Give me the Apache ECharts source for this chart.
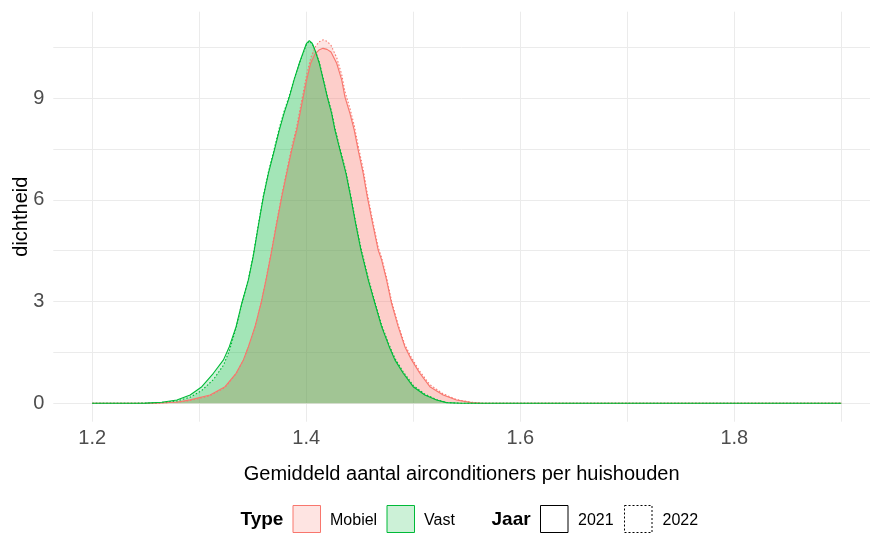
<!DOCTYPE html>
<html>
<head>
<meta charset="utf-8">
<script src="https://cdn.jsdelivr.net/npm/echarts@6/dist/echarts.min.js"></script>
<style>
html,body{margin:0;padding:0;background:#fff;}
#chart{width:870px;height:534px;}
</style>
</head>
<body>
<div id="chart"></div>
<script>
// ---- data ----
const mobielX = [1.2,1.26,1.28,1.2915,1.3101,1.3241,1.3344,1.3412,1.3459,1.3521,1.3577,1.3624,1.3668,1.3724,1.3771,1.3817,1.3864,1.3911,1.3942,1.3972,1.4004,1.4041,1.4081,1.4118,1.4156,1.4194,1.4231,1.4284,1.4331,1.4361,1.4408,1.4448,1.4485,1.4532,1.4570,1.4620,1.4672,1.4704,1.4750,1.4797,1.4859,1.4921,1.4984,1.5061,1.5155,1.5279,1.5404,1.5544,1.565,1.9];
const mobiel2021Y = [0,0.005,0.04,0.1,0.245,0.49,0.885,1.28,1.67,2.26,2.95,3.64,4.35,5.31,6.09,6.78,7.47,8.06,8.55,9.04,9.54,10.03,10.30,10.42,10.47,10.44,10.36,10.03,9.54,9.04,8.55,8.06,7.47,6.78,6.09,5.31,4.52,4.23,3.64,2.95,2.26,1.67,1.28,0.885,0.49,0.245,0.097,0.02,0,0];
const mobiel2022Y = [0,0.004,0.035,0.08,0.22,0.47,0.87,1.27,1.66,2.25,2.95,3.66,4.38,5.36,6.15,6.85,7.56,8.17,8.68,9.18,9.70,10.18,10.50,10.66,10.72,10.68,10.56,10.20,9.70,9.20,8.70,8.20,7.60,6.90,6.20,5.40,4.60,4.30,3.72,3.02,2.32,1.73,1.34,0.94,0.55,0.28,0.11,0.03,0,0];
const vastX = [1.2,1.25,1.265,1.2791,1.2915,1.3024,1.3132,1.3226,1.3281,1.3344,1.3397,1.3459,1.3505,1.3556,1.3599,1.3646,1.3702,1.3748,1.3792,1.3842,1.3886,1.3935,1.3979,1.4003,1.4028,1.4055,1.4081,1.4122,1.4159,1.4196,1.4237,1.4268,1.4315,1.4371,1.4415,1.4461,1.4511,1.4557,1.4579,1.4641,1.4704,1.4775,1.4828,1.4906,1.4999,1.5108,1.5217,1.5311,1.545,1.9];
const vast2021Y = [0,0.005,0.03,0.097,0.245,0.49,0.885,1.28,1.67,2.26,2.95,3.64,4.35,5.31,6.09,6.78,7.47,8.06,8.55,9.04,9.54,10.03,10.42,10.62,10.70,10.62,10.42,10.03,9.54,9.04,8.55,8.06,7.47,6.78,6.09,5.31,4.52,3.93,3.64,2.95,2.26,1.67,1.28,0.885,0.49,0.245,0.097,0.02,0,0];
const vast2022Y = [0,0.004,0.025,0.07,0.18,0.38,0.70,1.12,1.55,2.22,2.93,3.66,4.38,5.35,6.12,6.82,7.52,8.12,8.60,9.08,9.56,10.02,10.40,10.60,10.68,10.61,10.43,10.06,9.58,9.08,8.60,8.12,7.52,6.84,6.14,5.36,4.58,3.99,3.70,3.00,2.31,1.72,1.33,0.93,0.53,0.27,0.11,0.025,0,0];

const xTicks = [1.2,1.3,1.4,1.5,1.6,1.7,1.8,1.9];
const xLabels = [1.2,1.4,1.6,1.8];
const yTicks = [0,1.5,3,4.5,6,7.5,9,10.5];
const yLabels = [0,3,6,9];

const typeNames = ['Mobiel','Vast'];
const jaarNames = ['2021','2022'];
const typeColors = {Mobiel:'#F8766D', Vast:'#00BA38'};
const typeFills = {Mobiel:'rgba(248,118,109,0.2)', Vast:'rgba(0,186,56,0.2)'};

const seriesDefs = [
  {type:'Mobiel', jaar:'2021', x:mobielX, y:mobiel2021Y},
  {type:'Mobiel', jaar:'2022', x:mobielX, y:mobiel2022Y},
  {type:'Vast',   jaar:'2021', x:vastX,   y:vast2021Y},
  {type:'Vast',   jaar:'2022', x:vastX,   y:vast2022Y}
];

const FONT = '"Liberation Sans", Arial, sans-serif';
const chart = echarts.init(document.getElementById('chart'), null, {renderer:'canvas'});

const series = seriesDefs.map(d => ({
  name: d.type + ' ' + d.jaar,
  type: 'line',
  data: d.x.map((v,i) => [v, d.y[i]]),
  showSymbol: false,
  symbol: 'none',
  smooth: false,
  silent: true,
  animation: false,
  lineStyle: {color: typeColors[d.type], width: 1.1, type: d.jaar === '2022' ? [1.5,2] : 'solid'},
  areaStyle: {color: typeFills[d.type], opacity: 1, origin: 0}
}));

const gridLine = {show:true, lineStyle:{color:'#EBEBEB', width:1}};

// legend built from the names above
const legendY = 521.5;
const graphics = [];
function txt(x, s, bold, size){
  graphics.push({type:'text', left:x, top:legendY - size*0.58, style:{text:s, font:(bold?'bold ':'') + size + 'px ' + FONT, fill:'#000'}});
}
function box(x, fill, stroke, dash){
  graphics.push({type:'rect', shape:{x:x, y:505.5, width:27.5, height:27}, style:{fill:fill, stroke:stroke, lineWidth:1, lineDash:dash||null}});
}
txt(240.5, 'Type', true, 19);
box(293, typeFills.Mobiel, typeColors.Mobiel);
txt(330, typeNames[0], false, 16);
box(387, typeFills.Vast, typeColors.Vast);
txt(424, typeNames[1], false, 16);
txt(491.5, 'Jaar', true, 19);
box(540.5, '#fff', '#000');
txt(578, jaarNames[0], false, 16);
box(624.5, '#fff', '#000', [2,2]);
txt(662.5, jaarNames[1], false, 16);

chart.setOption({
  backgroundColor:'#fff',
  animation:false,
  grid:{left:53.3, right:0, top:11.7, bottom:112.3, outerBoundsMode:'none', containLabel:false},
  xAxis:{
    type:'value', min:1.1636, max:1.9268,
    name:'Gemiddeld aantal airconditioners per huishouden',
    nameLocation:'middle', nameGap:43, nameMoveOverlap:false,
    nameTextStyle:{color:'#000', fontSize:20, fontFamily:FONT},
    axisLine:{show:false}, axisTick:{show:false, customValues:xTicks},
    axisLabel:{customValues:xLabels, color:'#4D4D4D', fontSize:20, fontFamily:FONT, margin:7, formatter:v=>v.toFixed(1)},
    splitLine:gridLine
  },
  yAxis:{
    type:'value', min:-0.543, max:11.551,
    name:'dichtheid', nameLocation:'middle', nameGap:22, nameRotate:90, nameMoveOverlap:false,
    nameTextStyle:{color:'#000', fontSize:20, fontFamily:FONT},
    axisLine:{show:false}, axisTick:{show:false, customValues:yTicks},
    axisLabel:{customValues:yLabels, color:'#4D4D4D', fontSize:20, fontFamily:FONT, margin:9, formatter:v=>String(v)},
    splitLine:gridLine
  },
  graphic:graphics,
  series:series
});
</script>
</body>
</html>
